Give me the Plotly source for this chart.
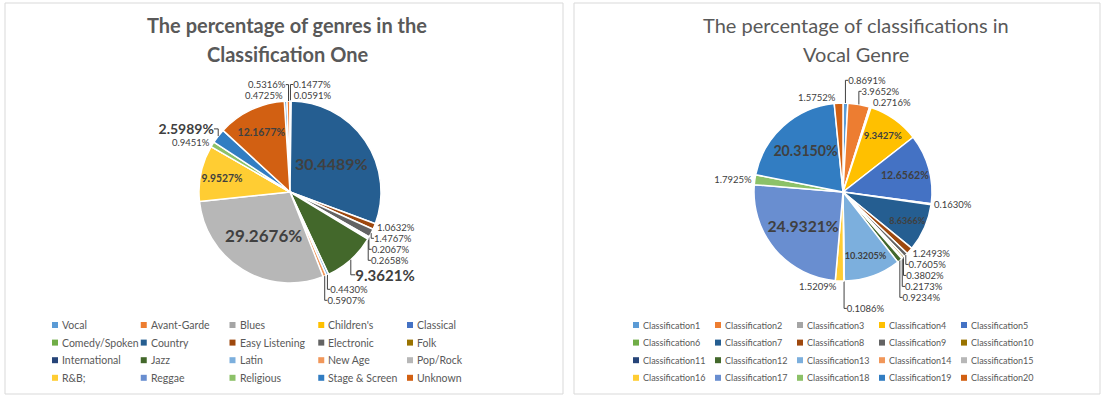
import plotly.graph_objects as go

# ---- data ----------------------------------------------------------------
genres = ["Vocal", "Avant-Garde", "Blues", "Children's", "Classical",
          "Comedy/Spoken", "Country", "Easy Listening", "Electronic", "Folk",
          "International", "Jazz", "Latin", "New Age", "Pop/Rock",
          "R&B;", "Reggae", "Religious", "Stage & Screen", "Unknown"]
genre_pct = [0.4725, 0.5316, 0.1477, 0.0591, 0.0,
             0.0, 30.4489, 1.0632, 1.4767, 0.2067,
             0.2658, 9.3621, 0.4430, 0.5907, 29.2676,
             9.9527, 0.0, 0.9451, 2.5989, 12.1677]

classes = ["Classification1", "Classification2", "Classification3", "Classification4",
           "Classification5", "Classification6", "Classification7", "Classification8",
           "Classification9", "Classification10", "Classification11", "Classification12",
           "Classification13", "Classification14", "Classification15", "Classification16",
           "Classification17", "Classification18", "Classification19", "Classification20"]
vocal_pct = [0.8691, 3.9652, 0.2716, 9.3427, 12.6562,
             0.1630, 8.6366, 1.2493, 0.7605, 0.3802,
             0.2173, 0.9234, 10.3205, 0.1086, 0.0,
             1.5209, 24.9321, 1.7925, 20.3150, 1.5752]

# ---- style -----------------------------------------------------------------
W, H = 1105, 396
FONT = "Lato"
palette = ["#5B9BD5", "#ED7D31", "#A5A5A5", "#FFC000", "#4472C4", "#70AD47",
           "#255E91", "#9E480E", "#636363", "#997300", "#264478", "#43682B",
           "#7CAFDD", "#F1975A", "#B7B7B7", "#FFCD33", "#698ED0", "#8CC168",
           "#327DC2", "#D26012"]


def px_x(x):
    return x / W


def px_y(y):
    return 1 - y / H


def label_style(values, big):
    """Per-slice text, position and size; `big` maps slice index -> (size, pos)."""
    texts, pos, sizes = [], [], []
    for i, v in enumerate(values):
        if v <= 0:
            texts.append("")
            pos.append("none")
            sizes.append(9)
            continue
        s = f"{v:.4f}%"
        if i in big:
            size, where = big[i]
            texts.append(f"<b>{s}</b>")
            pos.append(where)
            sizes.append(size)
        else:
            texts.append(s)
            pos.append("outside")
            sizes.append(9.5)
    return texts, pos, sizes


left_text, left_pos, left_size = label_style(
    genre_pct, {6: (16, "inside"), 14: (17, "inside"), 15: (15, "inside"),
                19: (13, "inside"), 11: (15, "outside"), 18: (14, "outside")})
right_text, right_pos, right_size = label_style(
    vocal_pct, {18: (16, "inside"), 16: (16, "inside"), 4: (15, "inside"),
                3: (14, "inside"), 6: (12, "inside"), 12: (11, "inside")})

fig = go.Figure()
fig.add_trace(go.Pie(
    labels=genres, values=genre_pct, sort=False, direction="clockwise",
    rotation=-3.6, text=left_text, textinfo="text", textposition=left_pos,
    insidetextorientation="horizontal",
    textfont=dict(family=FONT, size=left_size, color="#404040"),
    marker=dict(colors=palette, line=dict(color="white", width=1.5)),
    domain=dict(x=[px_x(199), px_x(381)], y=[px_y(283), px_y(101)]),
    showlegend=False, hoverinfo="label+value"))
fig.add_trace(go.Pie(
    labels=classes, values=vocal_pct, sort=False, direction="clockwise",
    rotation=0, text=right_text, textinfo="text", textposition=right_pos,
    insidetextorientation="horizontal",
    textfont=dict(family=FONT, size=right_size, color="#404040"),
    marker=dict(colors=palette, line=dict(color="white", width=1.5)),
    domain=dict(x=[px_x(754), px_x(932)], y=[px_y(281), px_y(103)]),
    showlegend=False, hoverinfo="label+value"))

shapes, annotations = [], []
# panel frames
for x0, x1 in [(5, 563), (574, 1100)]:
    shapes.append(dict(type="rect", xref="paper", yref="paper",
                       x0=px_x(x0), x1=px_x(x1), y0=px_y(394), y1=px_y(3),
                       line=dict(color="#D9D9D9", width=1), fillcolor="rgba(0,0,0,0)"))


# two-line titles, one annotation per line
def add_title(lines, cx, bold):
    for k, line in enumerate(lines):
        txt = f"<b>{line}</b>" if bold else line
        annotations.append(dict(text=txt, x=px_x(cx), y=px_y(25 + 29 * k),
                                xref="paper", yref="paper", xanchor="center",
                                yanchor="middle", showarrow=False,
                                font=dict(family=FONT, size=20, color="#595959")))


add_title(["The percentage of genres in the", "Classification One"], 287, True)
add_title(["The percentage of classifications in", "Vocal Genre"], 856, False)


# legends: 5 columns x 4 rows under each pie
def add_legend(names, x_start, col_w, font_size):
    for i, name in enumerate(names):
        r, c = divmod(i, 5)
        cx = x_start + c * col_w
        cy = 325 + r * 17.6
        shapes.append(dict(type="rect", xref="paper", yref="paper",
                           x0=px_x(cx - 3), x1=px_x(cx + 3),
                           y0=px_y(cy + 3), y1=px_y(cy - 3),
                           fillcolor=palette[i], line=dict(width=0)))
        annotations.append(dict(text=name, x=px_x(cx + 5), y=px_y(cy),
                                xref="paper", yref="paper", xanchor="left",
                                yanchor="middle", showarrow=False,
                                font=dict(family=FONT, size=font_size, color="#595959")))


add_legend(genres, 55, 88.75, 10.5)
add_legend(classes, 636, 82, 9)

fig.update_layout(width=W, height=H, margin=dict(l=0, r=0, t=0, b=0),
                  paper_bgcolor="white", plot_bgcolor="white",
                  shapes=shapes, annotations=annotations)
fig.write_html("out.html")
